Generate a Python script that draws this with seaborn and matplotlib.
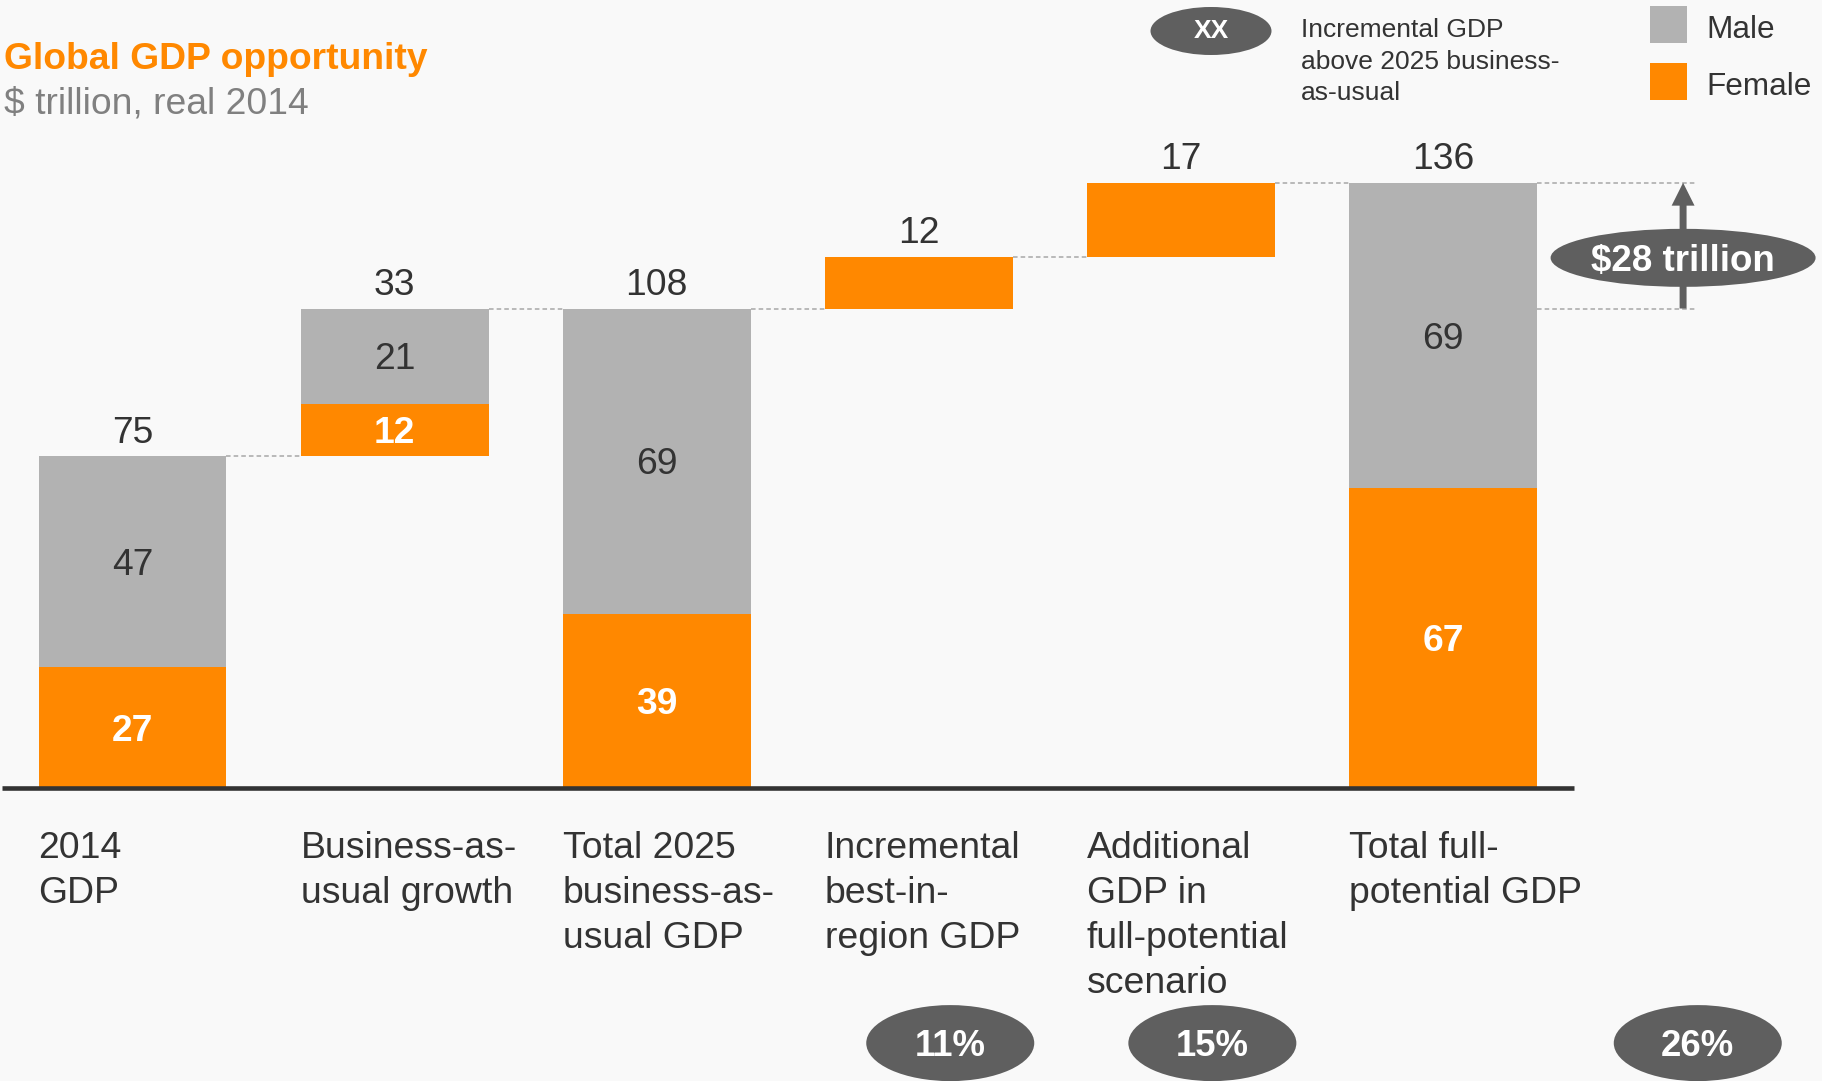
import numpy as np
import pandas as pd
import matplotlib
matplotlib.use("Agg")
import matplotlib.pyplot as plt
import seaborn as sns
from matplotlib.patches import Ellipse, Rectangle
from matplotlib import transforms

# ---- data ($ trillion, real 2014) ----
steps = [
    "2014\nGDP",
    "Business-as-\nusual growth",
    "Total 2025\nbusiness-as-\nusual GDP",
    "Incremental\nbest-in-\nregion GDP",
    "Additional\nGDP in\nfull-potential\nscenario",
    "Total full-\npotential GDP",
]
kinds = ["total", "delta", "total", "delta", "delta", "total"]
female = [27.2, 11.9, 39.1, 11.7, 16.6, 67.4]
male = [47.4, 21.4, 68.8, 0.0, 0.0, 68.8]
legend_labels = ["Male", "Female"]
title = "Global GDP opportunity"
subtitle = "$ trillion, real 2014"
bubble_note = "Incremental GDP\nabove 2025 business-\nas-usual"

# ---- style ----
ORANGE = "#FF8800"
GREY = "#B2B2B2"
DARK = "#333333"
BUBBLE = "#5F5F5F"
BG = "#F9F9F9"
DASH = "#A8A8A8"

sns.set_theme(style="white")
plt.rcParams["font.family"] = ["Liberation Sans", "DejaVu Sans"]

W, H = 1822, 1081
fig = plt.figure(figsize=(W / 100, H / 100), dpi=100, facecolor=BG)
ax = fig.add_axes([0, 0, 1, 1])

# running waterfall levels
bottoms, tops = [], []
level = 0.0
for k, f, m in zip(kinds, female, male):
    if k == "total":
        b = 0.0
        level = f + m
    else:
        b = level
        level += f + m
    bottoms.append(b)
    tops.append(b + f + m)

df = pd.DataFrame({"step": steps, "female": female, "male": male, "bottom": bottoms})
BAR_W = 0.717

sns.barplot(data=df, x="step", y="female", order=steps, bottom=df["bottom"].to_numpy(),
            color=ORANGE, saturation=1, width=BAR_W, errorbar=None, linewidth=0, ax=ax)
sns.barplot(data=df, x="step", y="male", order=steps,
            bottom=(df["bottom"] + df["female"]).to_numpy(),
            color=GREY, saturation=1, width=BAR_W, errorbar=None, linewidth=0, ax=ax)

ax.set_xlim(-0.5055, 6.446)
ax.set_ylim(-65.93, 177.32)
ax.set_axis_off()

half = BAR_W / 2

# baseline
ax.plot([-0.498, 5.50], [0, 0], color=DARK, lw=3.3, solid_capstyle="butt", zorder=5)

# dashed connectors between steps
dash_kw = dict(color=DASH, lw=1.1, ls=(0, (3, 2)), zorder=1)
for i in range(len(steps) - 1):
    y = tops[i]
    ax.plot([i + half, i + 1 - half], [y, y], **dash_kw)
last = len(steps) - 1
ax.plot([last + half, 5.961], [tops[last], tops[last]], **dash_kw)
ax.plot([last + half, 5.961], [tops[2], tops[2]], **dash_kw)

# value labels
VAL_FS = 26.8
for i, (f, m, b, t) in enumerate(zip(female, male, bottoms, tops)):
    ax.annotate(f"{round(f + m)}", (i, t), xytext=(0, 10.0), textcoords="offset points",
                ha="center", va="baseline", fontsize=VAL_FS, color=DARK)
    if m > 0:
        ax.annotate(f"{round(f)}", (i, b + f / 2), xytext=(0, -9.4), textcoords="offset points",
                    ha="center", va="baseline", fontsize=VAL_FS, color="white",
                    fontweight="bold")
        ax.annotate(f"{round(m)}", (i, b + f + m / 2), xytext=(0, -9.4),
                    textcoords="offset points", ha="center", va="baseline",
                    fontsize=VAL_FS, color=DARK)

# category labels under the axis
trans = transforms.blended_transform_factory(ax.transData, fig.transFigure)
for i, name in enumerate(steps):
    for j, line in enumerate(name.split("\n")):
        ax.text(i - half, 1 - (858 + 45 * j) / H, line, transform=trans,
                ha="left", va="baseline", fontsize=26.9, color=DARK)

# incremental share bubbles
base_total = tops[2]
incr = [female[3], female[4], female[3] + female[4]]
bubble_x = [3.12, 4.12, 5.972]
for x, v in zip(bubble_x, incr):
    ax.add_patch(Ellipse((x, -57.4), 0.641, 17.1, color=BUBBLE, lw=0, zorder=3))
    ax.annotate(f"{round(100 * v / base_total)}%", (x, -57.4), xytext=(0, -9.3),
                textcoords="offset points", ha="center", va="baseline",
                fontsize=26.3, fontweight="bold", color="white", zorder=4)

# total uplift arrow and bubble
ax_x = 5.916
ax.annotate("", xy=(ax_x, tops[5]), xytext=(ax_x, tops[2]),
            arrowprops=dict(width=5, headwidth=16.5, headlength=16.5, shrink=0,
                            color=BUBBLE, lw=0), zorder=3)
ax.add_patch(Ellipse((ax_x, 119.3), 265 / 262.1, 58 / 4.444, color=BUBBLE, lw=0, zorder=4))
ax.annotate(f"${round(tops[5] - tops[2])} trillion", (ax_x, 119.3), xytext=(0, -9.5),
            textcoords="offset points", ha="center", va="baseline",
            fontsize=26.5, fontweight="bold", color="white", zorder=5)

# header
def fpos(xp, yp):
    return xp / W, 1 - yp / H

fig.text(*fpos(4, 69.3), title, ha="left", va="baseline", fontsize=26.8,
         fontweight="bold", color=ORANGE)
fig.text(*fpos(4, 114), subtitle, ha="left", va="baseline", fontsize=26.8, color="#808080")

# bubble key
cx, cy = fpos(1211, 31)
fig.add_artist(Ellipse((cx, cy), 121 / W, 48 / H, transform=fig.transFigure,
                       color=BUBBLE, lw=0))
fig.text(*fpos(1211, 38.5), "XX", ha="center", va="baseline", fontsize=19,
         fontweight="bold", color="white")
for j, line in enumerate(bubble_note.split("\n")):
    fig.text(*fpos(1301, 37.3 + 31.6 * j), line, ha="left", va="baseline",
             fontsize=19, color=DARK)

# colour key
for j, (lab, col) in enumerate(zip(legend_labels, [GREY, ORANGE])):
    y0 = 6 + 57 * j
    x0, y1 = fpos(1650, y0 + 37)
    fig.add_artist(Rectangle((x0, y1), 37 / W, 37 / H, transform=fig.transFigure,
                             color=col, lw=0))
    fig.text(*fpos(1706, y0 + 32), lab, ha="left", va="baseline", fontsize=22.7,
             color=DARK)

fig.savefig("out.png", dpi=100, facecolor=BG)
